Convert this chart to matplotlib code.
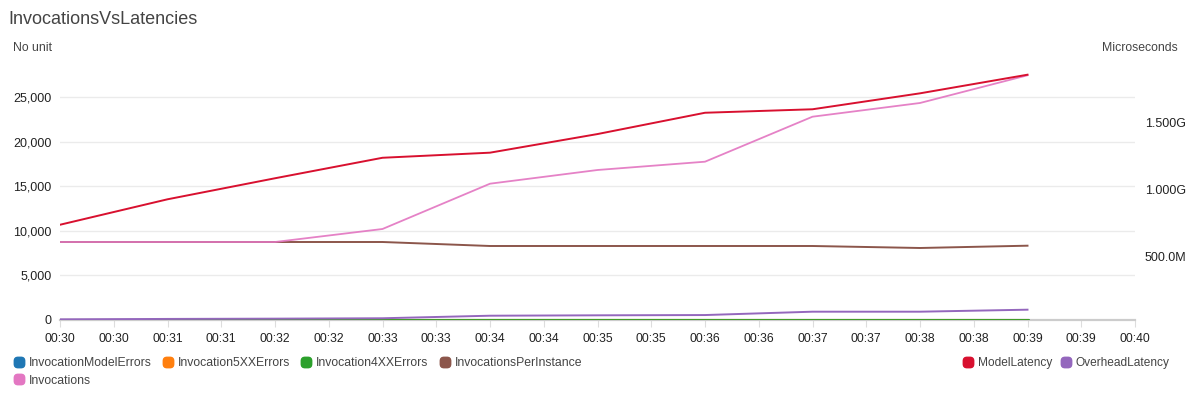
import matplotlib
matplotlib.use('Agg')
import matplotlib.pyplot as plt
import matplotlib.patches as mpatches
from matplotlib.lines import Line2D
from matplotlib.ticker import FuncFormatter, FixedLocator

plt.rcParams['font.family'] = ['Liberation Sans', 'DejaVu Sans']

# minutes past 00:00, one point per minute
minutes = [30, 31, 32, 33, 34, 35, 36, 37, 38, 39]

# left axis (No unit)
invocations = [8744, 8744, 8744, 10202, 15280, 16816, 17746, 22790, 24327, 27432]
invocations_per_instance = [8744, 8744, 8744, 8744, 8296, 8296, 8296, 8296, 8072, 8330]
invocation_model_errors = [0, 0, 0, 0, 0, 0, 0, 0, 0, 0]
invocation_5xx_errors = [0, 0, 0, 0, 0, 0, 0, 0, 0, 0]
invocation_4xx_errors = [0, 0, 0, 0, 0, 0, 0, 0, 0, 0]

# right axis (Microseconds)
model_latency = [737e6, 927e6, 1.084e9, 1.237e9, 1.275e9, 1.414e9, 1.573e9, 1.599e9, 1.718e9, 1.857e9]
overhead_latency = [31e6, 34e6, 36e6, 39e6, 58e6, 61e6, 63e6, 88e6, 88e6, 103e6]

left_ticks = [0, 5000, 10000, 15000, 20000, 25000]
right_ticks = [500e6, 1e9, 1.5e9]

colors = {
    'InvocationModelErrors': '#1f77b4',
    'Invocation5XXErrors': '#ff7f0e',
    'Invocation4XXErrors': '#2ca02c',
    'InvocationsPerInstance': '#8c564b',
    'Invocations': '#e377c2',
    'ModelLatency': '#d8102f',
    'OverheadLatency': '#9467bd',
}

W, H = 1197, 394
fig = plt.figure(figsize=(W / 100, H / 100), dpi=100)
ax = fig.add_axes([60 / W, (H - 320) / H, (1135 - 60) / W, (320 - 66) / H])
ax2 = ax.twinx()

ax.plot(minutes, invocation_model_errors, color=colors['InvocationModelErrors'], lw=1.5, zorder=3)
ax.plot(minutes, invocation_5xx_errors, color=colors['Invocation5XXErrors'], lw=1.5, zorder=3)
ax.plot(minutes, invocation_4xx_errors, color=colors['Invocation4XXErrors'], lw=2.0, zorder=4)
ax.plot(minutes, invocations_per_instance, color=colors['InvocationsPerInstance'], lw=1.4, zorder=3)
ax.plot(minutes, invocations, color=colors['Invocations'], lw=1.3, alpha=0.92, zorder=5)

ax2.plot(minutes, model_latency, color=colors['ModelLatency'], lw=1.4)
ax2.plot(minutes, overhead_latency, color=colors['OverheadLatency'], lw=1.4)

ax.set_xlim(30, 40)
ax.set_ylim(0, 28474)
ax2.set_ylim(26e6, 1.922e9)

xt = [30 + 0.5 * i for i in range(21)]
ax.xaxis.set_major_locator(FixedLocator(xt))
ax.set_xticklabels(['00:%02d' % int(t) for t in xt])
ax.yaxis.set_major_locator(FixedLocator(left_ticks))
ax.yaxis.set_major_formatter(FuncFormatter(lambda v, p: '{:,.0f}'.format(v)))
ax2.yaxis.set_major_locator(FixedLocator(right_ticks))


def fmt_right(v, p):
    if v >= 1e9:
        return '%.3fG' % (v / 1e9)
    return '%.1fM' % (v / 1e6)


ax2.yaxis.set_major_formatter(FuncFormatter(fmt_right))

ax.grid(axis='y', color='#ebebeb', lw=1)
ax.set_axisbelow(True)
for a in (ax, ax2):
    for s in a.spines.values():
        s.set_visible(False)
ax.spines['bottom'].set_visible(True)
ax.spines['bottom'].set_color('#cccccc')
ax.spines['bottom'].set_linewidth(1.6)
ax.spines['bottom'].set_zorder(2)

ax.tick_params(axis='x', length=5, color='#dddddd', labelsize=8.7, labelcolor='#222222', pad=4)
ax.tick_params(axis='y', length=0, labelsize=9, labelcolor='#222222', pad=6)
ax2.tick_params(axis='y', length=0, labelsize=9, labelcolor='#222222', pad=7)

fig.text(8 / W, 1 - 20 / H, 'InvocationsVsLatencies', fontsize=13, color='#444444', va='center')
fig.text(13 / W, 1 - 48 / H, 'No unit', fontsize=8.8, color='#444444', va='center')
fig.text(1178 / W, 1 - 48 / H, 'Microseconds', fontsize=8.8, color='#444444', va='center', ha='right')

box = mpatches.FancyBboxPatch((-0.5, -0.5), 1, 1, boxstyle='round,pad=0,rounding_size=0.35')
rmarker = box.get_path()


def handle(name):
    return Line2D([], [], ls='none', marker=rmarker, markersize=7.5,
                  markerfacecolor=colors[name], markeredgecolor=colors[name], label=name)


left_names = ['InvocationModelErrors', 'Invocations', 'Invocation5XXErrors',
              'Invocation4XXErrors', 'InvocationsPerInstance']
leg = fig.legend(handles=[handle(n) for n in left_names], loc='upper left', ncol=4,
                 bbox_to_anchor=(15 / W, 1 - 357 / H), frameon=False, fontsize=8.8,
                 handlelength=0.6, handletextpad=0.5, columnspacing=1.05,
                 labelspacing=0.45, borderpad=0, borderaxespad=0)
for t in leg.get_texts():
    t.set_color('#444444')

right_names = ['ModelLatency', 'OverheadLatency']
leg2 = fig.legend(handles=[handle(n) for n in right_names], loc='upper right', ncol=2,
                  bbox_to_anchor=(1170 / W, 1 - 357 / H), frameon=False, fontsize=8.6,
                  handlelength=0.6, handletextpad=0.5, columnspacing=0.9,
                  borderpad=0, borderaxespad=0)
for t in leg2.get_texts():
    t.set_color('#444444')

fig.savefig('out.png', dpi=100)
